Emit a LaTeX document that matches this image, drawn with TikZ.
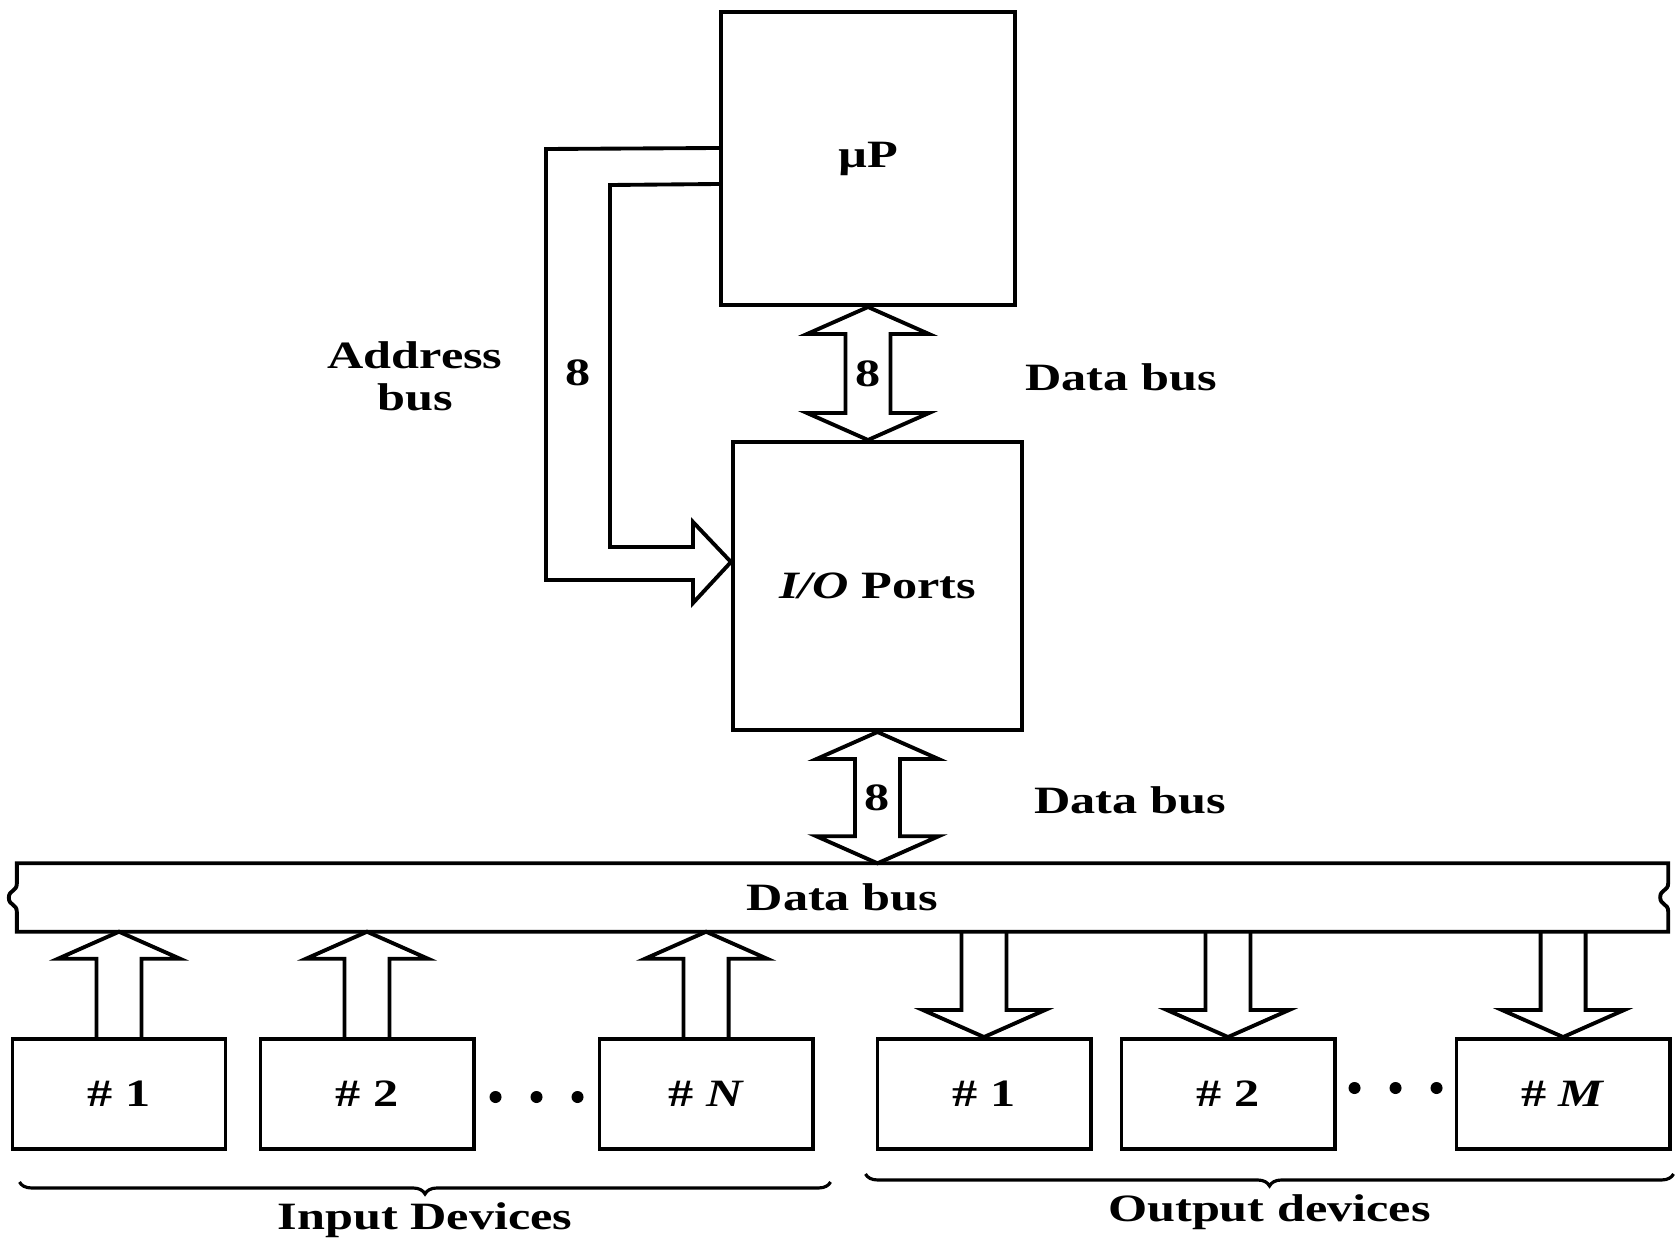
\documentclass[tikz,border=0pt]{standalone}
\usepackage{fontspec}
\setmainfont{Liberation Serif}[FakeStretch=1.3]
\usetikzlibrary{positioning, calc, decorations.pathreplacing}

\newcommand{\shaftw}{0.225cm}
\newcommand{\headw}{0.61cm}
\newcommand{\headlen}{0.27cm}

% block arrow, vertical: tail #1, tip #2
\newcommand{\fatarrow}[2]{%
  \draw[busline] let \p1=(#1), \p2=(#2),
      \n1={\y2-sign((\y2)-(\y1))*\headlen} in
    (\x1-\shaftw,\y1) -- (\x1-\shaftw,\n1) -- (\x1-\headw,\n1) -- (\x1,\y2)
    -- (\x1+\headw,\n1) -- (\x1+\shaftw,\n1) -- (\x1+\shaftw,\y1);}

% two-way block arrow, vertical: tips #1 and #2
\newcommand{\fatdblarrow}[2]{%
  \draw[busline] let \p1=(#1), \p2=(#2),
      \n1={\y1+sign((\y2)-(\y1))*\headlen},
      \n2={\y2-sign((\y2)-(\y1))*\headlen} in
    (\x1,\y1) -- (\x1+\headw,\n1) -- (\x1+\shaftw,\n1) -- (\x1+\shaftw,\n2)
    -- (\x1+\headw,\n2) -- (\x1,\y2) -- (\x1-\headw,\n2) -- (\x1-\shaftw,\n2)
    -- (\x1-\shaftw,\n1) -- (\x1-\headw,\n1) -- cycle;}

\begin{document}
\begin{tikzpicture}[
    x=0.01cm, y=-0.01cm,
    font=\fontsize{11}{12}\selectfont\bfseries,
    box/.style={
        rectangle,
        draw=black,
        line width=1.1pt,
        minimum width=2.13cm,
        minimum height=1.1cm,
        inner sep=0pt
    },
    chip/.style={box, minimum width=2.93cm, minimum height=2.93cm},
    busline/.style={draw=black, line width=1.1pt, line join=miter},
    bracket/.style={draw=black, line width=0.9pt, decorate,
        decoration={brace, mirror, amplitude=0.12cm}}
]
\useasboundingbox (0,0) rectangle (1675,1239);

% Processor and ports
\node[chip] (up) at (868,158.5) {µP};
\node[chip, minimum width=2.89cm, minimum height=2.88cm] (io) at (877.5,586) {\textit{I/O} Ports};

% Data bus bar
\node[minimum width=16.49cm, minimum height=0.67cm, inner sep=0pt] (bus) at (842.5,897.5) {Data bus};

% Input devices
\node[box] (in1) at (119,1094) {\# 1};
\node[box, right=0.31cm of in1] (in2) {\# 2};
\node[box, right=1.22cm of in2] (inN) {\# \textit{N}};

% Output devices
\node[box] (out1) at (984,1094) {\# 1};
\node[box, right=0.27cm of out1] (out2) {\# 2};
\node[box, right=1.18cm of out2] (outM) {\# \textit{M}};

% Bus outline with broken ends
\draw[busline] (bus.north west) -- (bus.north east) -- ++(0,20)
    .. controls +(0,8) and +(0,-8) .. ++(-8,14)
    .. controls +(0,8) and +(0,-8) .. ++(8,14)
    -- (bus.south east) -- (bus.south west) -- ++(0,-20)
    .. controls +(0,-8) and +(0,8) .. ++(-8,-14)
    .. controls +(0,-8) and +(0,8) .. ++(8,-14)
    -- cycle;

% Address bus
\coordinate (abtop) at ($(up.north west)+(0,138)$);
\coordinate (abin) at ($(up.north west)+(0,174)$);
\coordinate (abtip) at ($(io.west)+(0,-24)$);
\draw[busline] (abtop) -- (546,149) -- (546,580) -- (693,580) -- (693,603)
    -- (abtip) -- (693,522) -- (693,547) -- (610,547) -- (610,185) -- (abin);
\node (w8c) at (578,373) {8};
\node[align=center] (ablbl) at (415,376) {Address\\bus};

% Data buses
\fatdblarrow{up.south}{up.south |- io.north}
\fatdblarrow{io.south}{io.south |- bus.north}
\node (w8a) at ($(up.south)!.5!(up.south |- io.north)$) {8};
\node (w8b) at ($(io.south)!.5!(io.south |- bus.north)$) {8};
\node[anchor=west] (dblbl1) at (1013,377) {Data bus};
\node[anchor=west] (dblbl2) at (1022,800) {Data bus};

% Devices to and from bus
\fatarrow{in1.north}{in1.north |- bus.south}
\fatarrow{in2.north}{in2.north |- bus.south}
\fatarrow{inN.north}{inN.north |- bus.south}
\fatarrow{out1.north |- bus.south}{out1.north}
\fatarrow{out2.north |- bus.south}{out2.north}
\fatarrow{outM.north |- bus.south}{outM.north}

% Dots
\foreach \dx in {-41,0,41} {
    \fill ($(in2.east)!.5!(inN.west)+(\dx,3)$) circle[radius=0.06cm];
    \fill ($(out2.east)!.5!(outM.west)+(\dx,-6)$) circle[radius=0.06cm];
}

% Groups
\draw[bracket] ($(in1.south west)+(9,31)$) -- ($(inN.south east)+(16,31)$)
    node[midway, yshift=-0.38cm] (inlbl) {Input Devices};
\draw[bracket] ($(out1.south west)+(-10,23)$) -- ($(outM.south east)+(2,23)$)
    node[midway, yshift=-0.38cm] (outlbl) {Output devices};

\end{tikzpicture}
\end{document}
